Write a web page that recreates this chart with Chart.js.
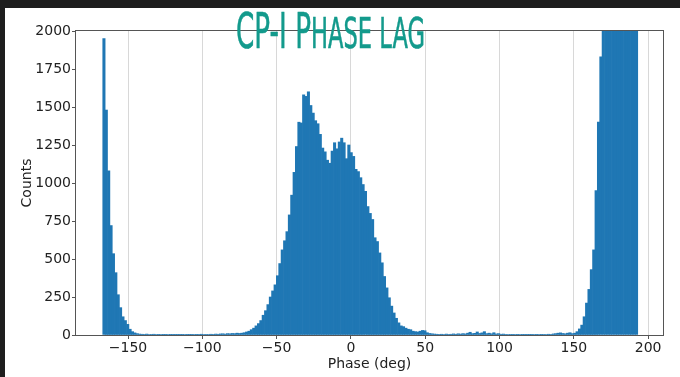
<!DOCTYPE html>
<html>
<head>
<meta charset="utf-8">
<script src="https://cdn.jsdelivr.net/npm/chart.js@4"></script>
<style>
  html, body { margin: 0; padding: 0; background: #1e1e1e; }
  #wrap { position: absolute; left: 5px; top: 8px; width: 675px; height: 369px; background: #fff; }
</style>
</head>
<body>
<div id="wrap"><canvas id="histChart" width="675" height="369"></canvas></div>
<script>
// histogram bins: 225 bins of 1.6 deg starting at -167 deg
const binStart = -167;
const binWidth = 1.6;

// counts per bin, left to right
const leftSpike = [1950, 1480, 1080, 720, 535, 410, 265, 180, 120, 95, 70, 38, 22, 14, 9, 6];
const leftGap = [
  5, 4, 6, 3, 4, 5, 3, 2, 3, 2,
  2, 3, 2, 1, 2, 2, 1, 2, 3, 2,
  1, 2, 3, 2, 4, 5, 3, 4, 3, 5,
  4, 6, 5, 7, 8, 6, 9, 8, 10, 9,
  12
];
const centralPeak = [
  10, 12, 15, 20, 25, 35, 45, 60, 75, 95,
  130, 160, 200, 250, 290, 330, 390, 470, 560, 620,
  680, 790, 920, 1070, 1240, 1400, 1395, 1580, 1570, 1600,
  1510, 1460, 1410, 1390, 1320, 1230, 1205, 1150, 1130, 1210,
  1265, 1225, 1270, 1295, 1265, 1160, 1250, 1200, 1175, 1090,
  1075, 1035, 990, 945, 845, 800, 760, 640, 615, 540,
  475, 385, 310, 245, 190, 145, 110, 80, 60, 55,
  45, 38, 35, 25, 22, 20, 25, 30, 28, 15,
  10, 8, 6, 5
];
const rightGap = [
  4, 5, 3, 6, 4, 5, 7, 5, 8, 6,
  9, 7, 12, 18, 9, 11, 20, 10, 14, 22,
  9, 12, 8, 15, 7, 9, 5, 6, 4, 3,
  4, 2, 3, 2, 3, 2, 2, 1, 2, 2,
  3, 2, 3, 2, 4, 3, 5, 4, 7, 9,
  12, 14, 10, 8, 12, 15, 9
];
const rightPeak = [
  12, 22, 40, 65, 120, 210, 300, 430, 560, 950,
  1400, 1830, 2450, 3000, 3500, 4000, 4400, 4700, 4900, 5000,
  4950, 4800, 4600, 4300, 3900, 3500, 3100
];

const counts = [...leftSpike, ...leftGap, ...centralPeak, ...rightGap, ...rightPeak];
const binCenters = counts.map((c, i) => binStart + binWidth * (i + 0.5));

const xTicks = [-150, -100, -50, 0, 50, 100, 150, 200];
const yTicks = [0, 250, 500, 750, 1000, 1250, 1500, 1750, 2000];

const tickFont = { family: "'DejaVu Sans', sans-serif", size: 14 };
const minus = (v) => (v < 0 ? "\u2212" + Math.abs(v) : String(v));

// matplotlib style box around the axes
const framePlugin = {
  id: "frame",
  afterDatasetsDraw(chart) {
    const { ctx, chartArea: a } = chart;
    ctx.save();
    ctx.strokeStyle = "#555";
    ctx.lineWidth = 1;
    ctx.strokeRect(a.left - 0.5, a.top - 0.5, a.right - a.left + 1, a.bottom - a.top + 1);
    ctx.restore();
  },
};

// hand lettered title, squeezed small caps
const titlePlugin = {
  id: "handTitle",
  afterDraw(chart) {
    const ctx = chart.ctx;
    const parts = [["CP-I ", 50], ["P", 50], ["HASE ", 43], ["LAG", 43]];
    ctx.save();
    ctx.fillStyle = "#139a8c";
    ctx.strokeStyle = "#139a8c";
    ctx.lineWidth = 0.6;
    let total = 0;
    parts.forEach(([t, s]) => {
      ctx.font = s + "px 'DejaVu Sans'";
      total += ctx.measureText(t).width;
    });
    ctx.translate(231, 40);
    ctx.scale(189 / total, 1);
    let x = 0;
    parts.forEach(([t, s]) => {
      ctx.font = s + "px 'DejaVu Sans'";
      ctx.fillText(t, x, 0);
      ctx.strokeText(t, x, 0);
      x += ctx.measureText(t).width;
    });
    ctx.restore();
  },
};

const histChart = new Chart(document.getElementById("histChart"), {
  type: "bar",
  data: {
    datasets: [
      {
        data: counts.map((c, i) => ({ x: binCenters[i], y: c })),
        backgroundColor: "#1f77b4",
        borderWidth: 0,
        barPercentage: 1,
        categoryPercentage: 1,
      },
    ],
  },
  options: {
    responsive: false,
    animation: false,
    layout: { padding: { top: 23, right: 17, left: 0, bottom: 0 } },
    plugins: { legend: { display: false }, tooltip: { enabled: false } },
    scales: {
      x: {
        type: "linear",
        min: -185,
        max: 210,
        offset: false,
        z: 1,
        afterBuildTicks: (axis) => { axis.ticks = xTicks.map((v) => ({ value: v })); },
        afterFit: (scale) => { scale.height = 42; },
        ticks: { font: tickFont, color: "#222", padding: 1, maxRotation: 0, autoSkip: false, callback: minus },
        grid: { color: "rgba(190,190,190,0.6)", tickColor: "#555", tickLength: 4, offset: false },
        border: { display: false },
        title: { display: true, text: "Phase (deg)", font: tickFont, color: "#222", padding: { top: 0, bottom: 4 } },
      },
      y: {
        min: 0,
        max: 2000,
        afterBuildTicks: (axis) => { axis.ticks = yTicks.map((v) => ({ value: v })); },
        afterFit: (scale) => { scale.width = 71; },
        ticks: { font: tickFont, color: "#222", padding: 1, callback: (v) => String(v) },
        grid: { drawOnChartArea: false, tickColor: "#555", tickLength: 4 },
        border: { display: false },
        title: { display: true, text: "Counts", font: tickFont, color: "#222", padding: { top: 14, bottom: 0 } },
      },
    },
  },
  plugins: [framePlugin, titlePlugin],
});
</script>
</body>
</html>
